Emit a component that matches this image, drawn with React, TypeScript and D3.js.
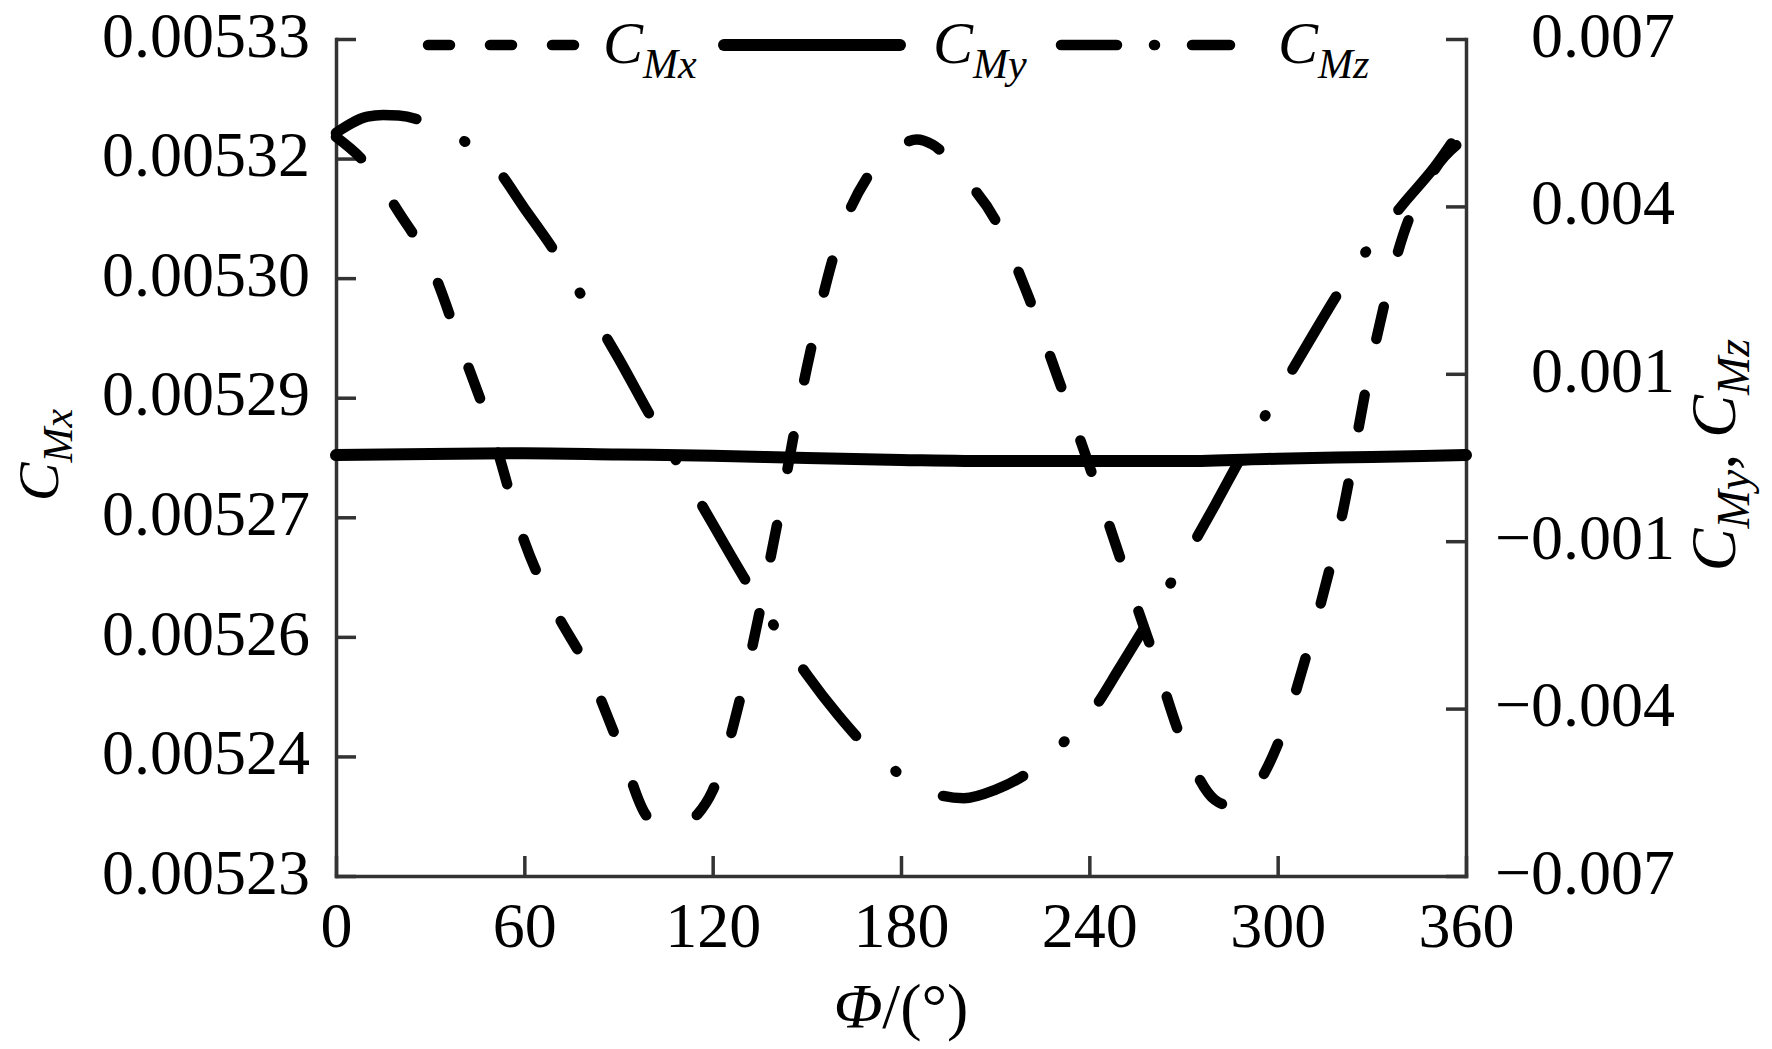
import { useEffect, useRef } from "react";
import * as d3 from "d3";

// x axis ticks, Φ in degrees
const PHI_TICKS = [0, 60, 120, 180, 240, 300, 360];
// left axis (C_Mx): evenly spaced ticks, labels rounded to 5 decimals
const CMX_TICK_LABELS = ["0.00523", "0.00524", "0.00526", "0.00527", "0.00529", "0.00530", "0.00532", "0.00533"];
// right axis (C_My, C_Mz)
const CMYZ_TICK_LABELS = ["\u22120.007", "\u22120.004", "\u22120.001", "0.001", "0.004", "0.007"];

// C_Mx (left axis)
const CMX_PHI = [0, 10, 20, 30, 40, 50, 60, 70, 80, 90, 100, 105, 110, 115, 120, 130, 140, 150, 160, 170, 180, 185, 190, 200, 210, 220, 230, 240, 250, 260, 270, 280, 285, 290, 300, 310, 320, 330, 340, 350, 360];
const CMX_VALUES = [
  0.0053183, 0.0053149, 0.0053093, 0.0053031, 0.005293, 0.0052826, 0.00527, 0.0052616, 0.0052549, 0.0052458,
  0.0052368, 0.0052362, 0.005236, 0.0052373, 0.0052402, 0.0052531, 0.005271, 0.0052907, 0.0053059, 0.0053139,
  0.0053173, 0.005318, 0.0053174, 0.0053135, 0.0053084, 0.0052998, 0.0052895, 0.005279, 0.0052678, 0.0052569,
  0.0052457, 0.0052391, 0.0052384, 0.0052393, 0.0052457, 0.0052575, 0.0052722, 0.0052917, 0.0053066, 0.0053144,
  0.0053182,
];

// C_My, solid curve (right axis)
const CMY_PHI = [0, 30, 60, 90, 120, 150, 180, 210, 240, 270, 300, 330, 360];
const CMY_VALUES = [0.00004, 0.00006, 0.00007, 0.00005, 0.00003, -0.00001, -0.00004, -0.00006, -0.00006, -0.00006, -0.00002, 0.00001, 0.00004];

// C_Mz, dash-dot curve (right axis)
const CMZ_PHI = [0, 10, 15, 20, 30, 40, 50, 60, 70, 80, 90, 100, 110, 120, 130, 140, 150, 160, 170, 180, 190, 200, 210, 220, 230, 240, 250, 260, 270, 280, 290, 300, 310, 320, 330, 340, 350, 360];
const CMZ_VALUES = [
  0.00543, 0.0057, 0.00573, 0.00572, 0.00558, 0.00532, 0.00491, 0.00417, 0.00342, 0.00255,
  0.00166, 0.00071, -0.0002, -0.00111, -0.00201, -0.00285, -0.00363, -0.00431, -0.00489, -0.00531,
  -0.00561, -0.0057, -0.00556, -0.00529, -0.00485, -0.00431, -0.00349, -0.00263, -0.00173, -0.0008,
  0.00016, 0.00105, 0.00194, 0.00281, 0.00358, 0.00424, 0.00486, 0.00562,
];

const W = 1772;
const H = 1049;
const margin = { top: 39, right: 306, bottom: 173, left: 336 };
const FONT = "'Liberation Serif', 'Times New Roman', serif";
const AXIS = "#333";

export default function App() {
  const ref = useRef<SVGSVGElement>(null);

  useEffect(() => {
    const svg = d3.select(ref.current);
    svg.selectAll("*").remove();

    const x = d3.scaleLinear().domain([0, 360]).range([margin.left, W - margin.right]);
    const yLeft = d3.scaleLinear().domain([0.00523, 0.00533]).range([H - margin.bottom, margin.top]);
    const yRight = d3.scaleLinear().domain([-0.007, 0.007]).range([H - margin.bottom, margin.top]);

    // ticks sit at equal steps across each domain
    const evenTicks = (dom: number[], n: number) =>
      d3.range(n).map((i) => dom[0] + ((dom[1] - dom[0]) * i) / (n - 1));
    const leftTicks = evenTicks(yLeft.domain(), CMX_TICK_LABELS.length);
    const rightTicks = evenTicks(yRight.domain(), CMYZ_TICK_LABELS.length);

    const styleAxis = (g: any) => {
      g.attr("font-family", FONT).attr("font-size", 64);
      g.select(".domain").attr("stroke", AXIS).attr("stroke-width", 3.5).attr("stroke-linecap", "square");
      g.selectAll(".tick line").attr("stroke", AXIS).attr("stroke-width", 3.5);
      g.selectAll(".tick text").attr("fill", "#000");
    };

    svg
      .append("g")
      .attr("transform", `translate(${margin.left},0)`)
      .call(
        d3
          .axisLeft(yLeft)
          .tickValues(leftTicks)
          .tickFormat((_, i) => CMX_TICK_LABELS[i])
          .tickSize(-20)
          .tickSizeOuter(0)
          .tickPadding(26)
      )
      .call(styleAxis)
      .selectAll(".tick text")
      .attr("dy", "0.27em");

    svg
      .append("g")
      .attr("transform", `translate(${W - margin.right},0)`)
      .call(
        d3
          .axisRight(yRight)
          .tickValues(rightTicks)
          .tickFormat((_, i) => CMYZ_TICK_LABELS[i])
          .tickSize(-20)
          .tickSizeOuter(0)
      )
      .call(styleAxis)
      .selectAll(".tick text")
      .attr("x", 209)
      .attr("text-anchor", "end")
      .attr("dy", "0.27em");

    svg
      .append("g")
      .attr("transform", `translate(0,${H - margin.bottom})`)
      .call(d3.axisBottom(x).tickValues(PHI_TICKS).tickSize(-20).tickSizeOuter(0).tickPadding(26))
      .call(styleAxis);

    // curves
    const series = [
      { phi: CMX_PHI, values: CMX_VALUES, y: yLeft, dash: "33 57", width: 10.5 },
      { phi: CMY_PHI, values: CMY_VALUES, y: yRight, dash: null, width: 12 },
      { phi: CMZ_PHI, values: CMZ_VALUES, y: yRight, dash: "85 53 1 53", width: 10.5 },
    ];
    series.forEach((s) => {
      const line = d3
        .line<number>()
        .x((_, i) => x(s.phi[i]))
        .y((d) => s.y(d))
        .curve(d3.curveMonotoneX);
      svg
        .append("path")
        .attr("d", line(s.values))
        .attr("fill", "none")
        .attr("stroke", "#000")
        .attr("stroke-width", s.width)
        .attr("stroke-linecap", "round")
        .attr("stroke-dasharray", s.dash);
    });

    // legend across the top
    const legend = svg.append("g").attr("font-family", FONT).attr("font-style", "italic");
    const items = [
      { x1: 428, x2: 574, dash: "22 40", width: 10.5, tx: 603, sub: "Mx" },
      { x1: 724, x2: 900, dash: null, width: 12, tx: 933, sub: "My" },
      { x1: 1061, x2: 1230, dash: "56 37 1 37", width: 10.5, tx: 1278, sub: "Mz" },
    ];
    items.forEach((it) => {
      legend
        .append("line")
        .attr("x1", it.x1)
        .attr("x2", it.x2)
        .attr("y1", 45)
        .attr("y2", 45)
        .attr("stroke", "#000")
        .attr("stroke-width", it.width)
        .attr("stroke-linecap", "round")
        .attr("stroke-dasharray", it.dash);
      const t = legend.append("text").attr("x", it.tx).attr("y", 63).attr("font-size", 60).text("C");
      t.append("tspan").attr("font-size", 42).attr("dy", 15).text(it.sub);
    });

    // axis titles
    const xt = svg
      .append("text")
      .attr("x", x(180))
      .attr("y", 1028)
      .attr("text-anchor", "middle")
      .attr("font-family", FONT)
      .attr("font-size", 64);
    xt.append("tspan").attr("font-style", "italic").text("\u03A6");
    xt.append("tspan").text("/(\u00B0)");

    const lt = svg
      .append("text")
      .attr("transform", "translate(58,455) rotate(-90)")
      .attr("text-anchor", "middle")
      .attr("font-family", FONT)
      .attr("font-style", "italic")
      .attr("font-size", 58)
      .text("C");
    lt.append("tspan").attr("font-size", 42).attr("dy", 14).text("Mx");

    const rt = svg
      .append("text")
      .attr("transform", "translate(1735,455) rotate(-90)")
      .attr("text-anchor", "middle")
      .attr("font-family", FONT)
      .attr("font-style", "italic")
      .attr("font-size", 64)
      .text("C");
    rt.append("tspan").attr("font-size", 46).attr("dy", 14).text("My");
    rt.append("tspan").attr("dy", -14).text(", C");
    rt.append("tspan").attr("font-size", 46).attr("dy", 14).text("Mz");
  }, []);

  return (
    <svg
      ref={ref}
      width={W}
      height={H}
      style={{ position: "absolute", left: 0, top: 0, background: "#fff" }}
    />
  );
}
